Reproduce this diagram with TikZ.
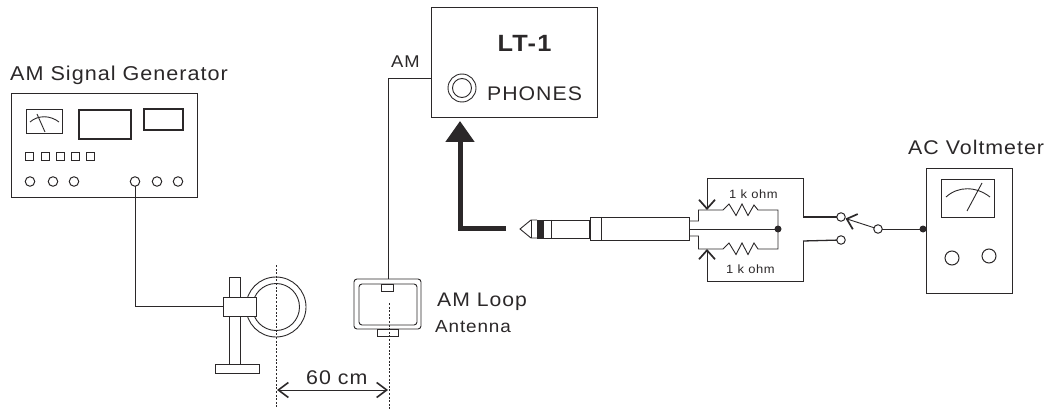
\documentclass[tikz,border=0pt]{standalone}
\usepackage{fontspec}
\setmainfont[FakeStretch=1.08,LetterSpace=5]{Liberation Sans}
\usetikzlibrary{arrows.meta,calc}
\definecolor{ink}{HTML}{2B2829}
\tikzset{
  box/.style={draw=ink,line width=.9pt,minimum width=#1,inner sep=0pt,outer sep=0pt},
  ln/.style={draw=ink,line width=.9pt},
  thin wire/.style={draw=ink,line width=.8pt},
  heavy/.style={draw=ink,line width=1.3pt},
  knob/.style={circle,draw=ink,line width=1pt,fill=white,minimum size=#1,inner sep=0pt,outer sep=0pt},
  dot/.style={circle,fill=ink,minimum size=7pt,inner sep=0pt,outer sep=0pt},
  cl/.style={dash pattern=on 2pt off 1.6pt,draw=ink,line width=.8pt},
  lab/.style={text=ink,inner sep=0pt,anchor=base west,font=\fontsize{#1}{#1}\selectfont},
  barb/.style={-{Straight Barb[length=9pt,width=16pt,line width=1.7pt]}},
  sq/.style={box=8pt,minimum height=8pt,line width=1pt},
}
\begin{document}
\begin{tikzpicture}[x=1pt,y=-1pt]
\useasboundingbox (0,0) rectangle (1053,409);
% Generator
\node[lab=20] (tgen) at (10,81) {AM Signal Generator};
\node[box=186pt,minimum height=104.5pt] (gen) at (104,145.25) {};
\node[box=36pt,minimum height=24pt] (gmeter) at (44,121) {};
\node[box=52pt,minimum height=29pt,line width=1.2pt] (gmid) at (105,124.5) {};
\node[box=39pt,minimum height=21pt,line width=1.1pt] (gright) at (163.5,119.5) {};
\draw[ln] (30,122) .. controls (38,115) and (50,115) .. (59,122);
\draw[ln] (37,114) -- (45,132);
\foreach \x/\n in {29/1,45/2,60/3,75/4,90/5}{\node[sq] (gs\n) at (\x,157) {};}
\foreach \x/\n in {30/1,53/2,74/3,135/4,157/5,178/6}{\node[knob=9.5pt] (gk\n) at (\x,181.5) {};}
% Loop stand
\node[box=11pt,minimum height=87pt] (post) at (234.5,320.5) {};
\node[box=44pt,minimum height=9pt] (base) at (237,368.5) {};
\node[circle,draw=ink,line width=.9pt,minimum size=60pt,inner sep=0pt,outer sep=0pt] (ringo) at (276,307) {};
\node[circle,draw=ink,line width=.9pt,minimum size=47pt,inner sep=0pt,outer sep=0pt] (ringi) at (276,307) {};
\node[box=33pt,minimum height=19pt,fill=white] (clamp) at (239.5,306.5) {};
\draw[thin wire] (gk4.south) |- (clamp.west);
% Antenna
\node[box=67pt,minimum height=50pt,rounded corners=3pt] (ant) at (387.5,304) {};
\node[box=58pt,minimum height=41pt,rounded corners=3pt] (anti) at (388,304.5) {};
\node[box=12pt,minimum height=7pt] (tab) at (387,287.5) {};
\node[box=21pt,minimum height=7pt] (foot) at (387.5,332.5) {};
% centre lines
\coordinate (c1t) at (276,265); \coordinate (c1b) at (276,409);
\coordinate (c2t) at (389,303); \coordinate (c2b) at (389,409);
\draw[cl] (c1t) -- (c1b);
\draw[cl] (c2t) -- (c2b);
\coordinate (dl) at (277,390); \coordinate (dr) at (388,390);
\draw[draw=ink,line width=1pt,{Straight Barb[length=10pt,width=15pt,line width=1.6pt]}-{Straight Barb[length=10pt,width=15pt,line width=1.6pt]}] (dl) -- (dr);
\node[lab=19.8] (t60) at (306,384) {60 cm};
\node[lab=19.6] (tloop) at (437,306) {AM Loop};
\node[lab=17.5] (tant) at (435,332) {Antenna};
% LT-1
\node[box=166pt,minimum height=110pt] (lt) at (514,62) {};
\node[text=ink,inner sep=0pt,anchor=base,font=\fontsize{23.5}{23.5}\selectfont\bfseries] (tlt) at (524.5,52) {LT-1};
\node[lab=17] (tamm) at (391,68) {AM};
\node[lab=19.7] (tph) at (487,101) {PHONES};
\node[circle,draw=ink,line width=.9pt,minimum size=28pt,inner sep=0pt,outer sep=0pt] (jack) at (462,88) {};
\node[circle,draw=ink,line width=.9pt,minimum size=19pt,inner sep=0pt,outer sep=0pt] (jacki) at (462,88) {};
\coordinate (amc) at (388.5,78);
\draw[ln] (ant.north-|amc) -- (amc) -- (amc-|lt.west);
% big arrow
\coordinate (ba) at (506,228); \coordinate (bb) at (460,228); \coordinate (bc) at (460,121);
\draw[ink,line width=5pt,-{Triangle[length=21pt,width=28pt]},shorten >=0pt] (ba) -- (bb) -- (bc);
% plug
\node[box=99pt,minimum height=23pt] (body) at (639.5,228.5) {};
\node[box=52pt,minimum height=18pt,anchor=east] (sleeve) at (589,229) {};
\fill[ink] (537,220) rectangle (544,239);
\draw[ln] (551,220) -- (551,238);
\draw[ln] (601,217) -- (601,240);
\draw[ln] (537,220) -- (531,220) -- (520,229) -- (531,238) -- (537,238);
\draw[ln] (531,220) -- (531,238);
% network
\coordinate (up) at (689,221); \coordinate (um) at (698.5,210); \coordinate (lo) at (689,236);
\coordinate (lm) at (698.5,249);
\node[dot] (junc) at (778,229) {};
\coordinate (rr) at (778,210); \coordinate (rq) at (778,249);
\draw[ln] (up) -- (up-|um) -- (um) -- (723,210) -- (729,204) -- (736,215.5) -- (742,204) -- (748,215.5) -- (754,205) -- (758,210) -- (rr) -- (rq) -- (758,249) -- (754,243) -- (748,254.5) -- (742,243) -- (736,254.5) -- (729,243) -- (723,249) -- (lm) -- (lo-|lm) -- (lo);
\draw[ln] (689,229) -- (junc);
\node[lab=12] (r1) at (729,199) {1 k ohm};
\node[lab=12] (r2) at (726,273) {1 k ohm};
\node[knob=8.5pt] (s1) at (841,217) {};
\node[knob=8.5pt] (s2) at (841,240) {};
\node[knob=8.5pt] (s3) at (878,229) {};
\coordinate (a1) at (707,178); \coordinate (a2) at (707,281);
\coordinate (b1) at (803,178); \coordinate (b2) at (803,281);
\coordinate (t1) at (803,217);
\coordinate (t2) at (803,241);
\draw[ln] (t1) -- (b1) -- (a1);
\draw[ln,barb] (a1) -- (707,210);
\draw[heavy] (t1) -- (s1);
\draw[ln] (t2) -- (b2) -- (a2);
\draw[ln,barb] (a2) -- (707,249);
\draw[heavy] (t2) -- (s2);
\draw[ln,barb] (s3) -- (845.5,218.5);
% Voltmeter
\node[lab=19.8] (tvm) at (908,155) {AC Voltmeter};
\node[box=86pt,minimum height=125pt] (vm) at (969,230.5) {};
\node[box=53pt,minimum height=38pt] (vmeter) at (967.5,198) {};
\draw[ln] (946,197) .. controls (958,186) and (976,186) .. (990,197);
\draw[ln] (967,211) -- (982,183);
\node[knob=14pt] (vk1) at (952,258) {};
\node[knob=14pt] (vk2) at (989,256) {};
\node[dot] (vd) at (923,229) {};
\draw[ln] (s3) -- (vd);
\end{tikzpicture}
\end{document}
